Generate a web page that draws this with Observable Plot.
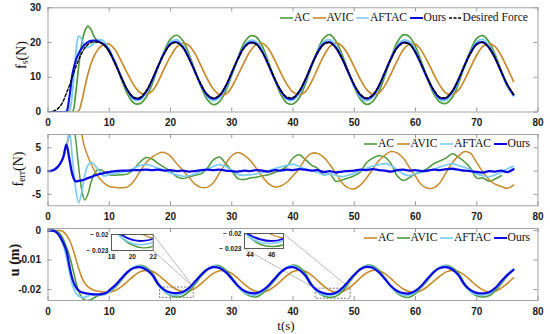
<!DOCTYPE html>
<html><head><meta charset="utf-8">
<script src="https://cdn.jsdelivr.net/npm/d3@7"></script>
<script src="https://cdn.jsdelivr.net/npm/@observablehq/plot@0.6"></script>
<style>
body{margin:0;background:#fff}
#chart{position:relative;width:550px;height:334px;overflow:hidden;background:#fff}
.leg{position:absolute;font-family:"Liberation Serif","DejaVu Serif",serif;font-size:11.6px;color:#111;white-space:nowrap;display:flex;align-items:center;height:14px}
.leg .it{display:flex;align-items:center;margin-right:2.5px}
.leg svg{display:block;margin-right:1px}
.lab{position:absolute;font-family:"Liberation Serif","DejaVu Serif",serif;font-size:14px;color:#111;white-space:nowrap;line-height:1}
.lab sub{font-size:70%;line-height:0;vertical-align:-0.25em}
</style></head><body><div id="chart"></div>
<script>
// ---------- data ----------
const time = [0,0.5,1,1.5,2,2.5,3,3.5,4,4.5,5,5.5,6,6.5,7,7.5,8,8.5,9,9.5,10,
11,12,13,14,15,16,17,18,19,20,21,22,23,24,25,26,27,28,29,30,31,32,
33,34,35,36,37,38,39,40,41,42,43,44,45,46,47,48,49,50,51,52,53,54,55,56,57,
58,59,60,61,62,63,64,65,66,67,68,69,70,71,72,73,74,75,76];

// top panel: contact force f_s (N)
const fsDesired = [0,0,0.3,0.8,1.7,3.2,5.4,7.6,10.2,12.8,15.0,16.9,18.4,19.4,20.0,20.2,20.1,20.0,19.5,18.6,17.3,
13.7,9.7,6.3,4.3,4.2,6.0,9.3,13.3,16.9,19.4,20.0,18.6,15.6,11.7,7.9,5.1,4.0,4.9,7.5,11.3,15.2,18.4,
19.9,19.5,17.3,13.7,9.7,6.3,4.3,4.2,6.0,9.3,13.3,16.9,19.4,20.0,18.6,15.6,11.7,7.9,5.1,4.0,4.9,7.5,11.3,15.2,18.4,
19.9,19.5,17.3,13.7,9.7,6.3,4.3,4.2,6.0,9.3,13.3,16.9,19.4,20.0,18.6,15.6,11.7,7.9,5.1];
const fsOurs = [0,0,0,0,0,0,0.1,4.5,11.0,14.6,16.8,18.3,19.4,20.1,20.5,20.6,20.5,20.1,19.6,18.8,17.6,
13.9,9.9,6.2,4.0,3.9,5.8,9.2,13.3,17.0,19.6,20.1,18.7,15.5,11.6,7.7,4.9,3.8,4.7,7.4,11.3,15.3,18.6,
20.0,19.6,17.2,13.5,9.5,6.1,4.0,3.9,5.8,9.2,13.4,17.1,19.6,20.1,18.5,15.4,11.5,7.7,4.9,3.8,4.7,7.4,11.4,15.4,18.6,
20.0,19.6,17.1,13.4,9.5,6.1,4.0,4.0,5.9,9.3,13.4,17.1,19.6,20.1,18.5,15.5,11.6,7.8,5.0];
const fsAFTAC = [0,0,0,0,0,0,0,0.5,6.0,16.0,21.8,21.0,18.8,18.6,19.0,19.8,20.6,20.8,20.5,19.5,18.0,
14.0,9.7,5.9,3.6,3.4,5.4,8.9,13.1,17.2,20.1,20.8,19.2,15.9,11.7,7.5,4.4,3.2,4.2,7.0,11.0,15.2,18.9,
20.6,20.2,17.8,13.9,9.6,5.9,3.6,3.4,5.3,8.8,13.1,17.3,20.2,20.8,19.0,15.7,11.5,7.4,4.3,3.2,4.2,7.1,11.1,15.3,19.0,
20.7,20.3,17.7,13.8,9.5,5.8,3.5,3.4,5.4,8.9,13.2,17.3,20.2,20.9,19.1,15.7,11.5,7.4,4.6];
const fsAC = [0,0,0,0,0,0,0,0,0,5.0,13.0,19.5,23.2,24.7,23.8,21.8,20.6,20.0,19.6,18.8,17.2,
14.3,9.3,5.1,2.6,2.4,4.2,8.0,13.0,17.6,21.0,22.1,20.6,16.8,11.9,7.2,3.6,2.1,3.0,6.0,10.6,15.6,19.8,
21.9,21.6,18.9,14.4,9.4,5.1,2.6,2.3,4.0,7.9,12.9,17.7,21.2,22.3,20.4,16.6,11.8,7.2,3.7,2.2,3.0,5.8,10.4,15.5,20.0,
22.2,21.7,18.8,14.3,9.3,5.2,2.8,2.5,4.2,8.1,13.1,17.8,21.2,22.0,20.2,16.5,11.8,7.3,5.0];
const fsAVIC = [0,0,0,0,0,0,0,0,0,0,0.3,3.0,7.0,10.8,13.8,16.0,17.6,18.7,19.3,19.6,19.6,
17.8,14.5,11.0,7.8,5.6,5.0,6.0,8.8,12.6,16.0,18.7,19.8,19.2,16.8,13.2,9.6,6.6,5.0,5.1,7.2,10.6,14.2,17.5,19.4,19.8,
18.2,15.0,11.3,8.0,5.7,4.9,5.8,8.6,12.4,16.1,18.8,19.9,19.0,16.5,13.0,9.4,6.5,5.1,5.4,7.6,11.0,14.7,17.9,19.6,19.6,
17.6,14.4,10.8,7.6,5.4,5.0,6.3,9.2,12.9,16.4,18.9,19.7,18.8,16.2,12.6,8.8];

// middle panel: force error f_err (N)
const errOurs = [0,0.05,0.3,0.8,1.6,3.0,5.7,2.5,-0.8,-2.2,-2.1,-2.0,-1.8,-1.5,-1.3,-1.0,-0.8,-0.6,-0.5,-0.3,-0.2,
0.0,0.1,0.1,0.2,0.2,0.3,0.2,0.3,0.1,0.2,0.0,0.1,-0.1,0.0,0.2,0.3,0.2,0.3,0.1,0.0,-0.1,0.1,
0.0,0.2,0.1,-0.1,0.2,0.1,0.3,0.2,0.4,0.3,0.1,0.2,-0.2,0.0,-0.3,-0.1,0.0,0.1,0.3,0.2,0.4,0.2,0.1,-0.1,0.2,
0.3,0.1,0.2,0.0,0.1,0.3,0.2,0.4,0.5,0.3,0.1,0.0,-0.2,-0.3,0.0,-0.1,0.1,-0.2,0.4];
const errAFTAC = [0,0.05,0.3,0.8,1.6,3.0,5.2,8.5,2.5,-3.5,-6.8,-4.5,-1.0,1.2,1.8,1.5,0.6,-0.3,-1.0,-1.0,-0.7,
-0.5,-0.3,0.0,0.6,1.2,1.4,1.1,0.6,0.2,-0.4,-0.8,-1.1,-1.0,-0.6,-0.1,0.4,1.0,1.4,1.0,0.2,-0.7,-0.9,
-0.8,-0.6,-0.3,0.1,0.5,0.9,1.2,1.5,1.0,0.5,0.1,-0.3,-0.8,-0.6,-0.9,-1.2,-0.9,-0.5,0.1,0.6,1.1,1.4,1.6,1.2,0.3,
-0.6,-1.0,-0.5,-0.2,0.1,0.4,0.9,1.3,1.6,1.2,0.8,0.3,-0.6,-1.0,-1.2,-0.8,-0.3,0.5,1.0];
const errAC = [0,0.05,0.3,0.8,1.6,3.0,5.2,8.5,11.0,7.0,1.0,-4.0,-6.2,-5.0,-2.5,-0.8,0.2,0.3,0.0,-0.4,-0.8,
-0.9,-0.8,-0.6,0.4,1.9,2.9,2.6,1.6,0.8,0.0,-1.2,-1.6,-1.3,-0.9,-0.6,0.6,2.4,3.0,1.6,0.1,-1.6,-1.8,
-1.5,-1.3,-1.0,-0.8,-0.3,0.2,1.0,2.8,3.5,2.5,1.3,0.6,-0.8,-0.6,-2.2,-1.9,-1.5,-1.0,-0.2,1.8,2.8,3.3,3.0,1.6,-1.0,
-2.0,-1.4,-0.6,-0.2,0.6,1.6,2.2,2.8,3.7,3.0,2.0,0.6,-1.5,-1.5,-2.2,-1.7,-1.0,null,null];
const errAVIC = [0,0.05,0.3,0.8,1.6,3.0,5.2,7.6,10.2,12.8,14.0,8.0,5.0,3.2,1.7,0.3,-0.8,-1.7,-2.4,-2.9,-3.3,
-3.5,-3.6,-3.4,-2.2,-0.1,1.8,3.0,3.8,4.0,3.2,1.6,0.2,-1.3,-2.8,-3.5,-3.5,-2.5,-0.4,1.6,3.3,4.0,3.4,
2.3,0.6,-1.2,-2.7,-3.4,-3.2,-2.4,-1.0,0.5,2.6,3.8,3.8,3.0,1.4,-0.5,-2.5,-3.6,-3.8,-3.0,-1.5,0.4,2.2,3.4,4.2,3.9,
2.8,0.8,-1.1,-3.0,-3.7,-3.6,-2.5,-0.3,1.8,3.2,4.2,3.8,1.8,-0.2,-1.8,-2.8,-3.3,-3.7,-3.0];

// bottom panel: u (m)   (legend of this panel: AC = brown, AVIC = green)
const uOurs = [0,0,-0.0001,-0.0008,-0.0022,-0.0042,-0.0068,-0.0120,-0.0165,-0.0190,-0.0203,-0.0209,-0.0212,-0.0214,-0.0215,-0.0216,-0.0216,-0.0216,-0.0214,-0.0211,-0.0203,
-0.0185,-0.0162,-0.0140,-0.0127,-0.0124,-0.0132,-0.0150,-0.0182,-0.0201,-0.0210,-0.0212,-0.0208,-0.0195,-0.0173,-0.0150,-0.0132,-0.0124,-0.0127,-0.0141,-0.0163,-0.0187,-0.0204,-0.0211,-0.0212,-0.0203,
-0.0186,-0.0163,-0.0141,-0.0127,-0.0124,-0.0133,-0.0152,-0.0184,-0.0203,-0.0212,-0.0215,-0.0211,-0.0196,-0.0173,-0.0150,-0.0131,-0.0123,-0.0126,-0.0141,-0.0164,-0.0188,-0.0205,-0.0212,-0.0213,-0.0204,
-0.0186,-0.0162,-0.0140,-0.0127,-0.0124,-0.0132,-0.0151,-0.0183,-0.0202,-0.0211,-0.0213,-0.0209,-0.0195,-0.0172,-0.0150,-0.0133];
const uAFTAC = [0,0,0,-0.0008,-0.0025,-0.0050,-0.0090,-0.0140,-0.0185,-0.0210,-0.0222,-0.0226,-0.0225,-0.0222,-0.0219,-0.0218,-0.0218,-0.0218,-0.0217,-0.0214,-0.0207,
-0.0188,-0.0163,-0.0139,-0.0124,-0.0120,-0.0129,-0.0150,-0.0185,-0.0206,-0.0217,-0.0219,-0.0214,-0.0199,-0.0175,-0.0150,-0.0130,-0.0120,-0.0124,-0.0139,-0.0164,-0.0190,-0.0209,-0.0218,-0.0218,-0.0207,
-0.0189,-0.0164,-0.0140,-0.0124,-0.0120,-0.0130,-0.0152,-0.0187,-0.0208,-0.0218,-0.0220,-0.0215,-0.0199,-0.0175,-0.0150,-0.0129,-0.0119,-0.0123,-0.0139,-0.0165,-0.0191,-0.0210,-0.0219,-0.0218,-0.0208,
-0.0189,-0.0163,-0.0139,-0.0124,-0.0120,-0.0129,-0.0151,-0.0186,-0.0207,-0.0217,-0.0219,-0.0214,-0.0198,-0.0174,-0.0150,-0.0130];
const uAVIC = [0,0,0,-0.0003,-0.0012,-0.0030,-0.0055,-0.0085,-0.0125,-0.0170,-0.0205,-0.0226,-0.0235,-0.0237,-0.0234,-0.0228,-0.0222,-0.0219,-0.0217,-0.0214,-0.0209,
-0.0192,-0.0168,-0.0143,-0.0125,-0.0118,-0.0124,-0.0143,-0.0178,-0.0206,-0.0220,-0.0225,-0.0222,-0.0207,-0.0182,-0.0155,-0.0132,-0.0119,-0.0119,-0.0133,-0.0158,-0.0188,-0.0210,-0.0222,-0.0225,-0.0214,
-0.0193,-0.0169,-0.0144,-0.0125,-0.0117,-0.0123,-0.0144,-0.0180,-0.0208,-0.0222,-0.0226,-0.0223,-0.0207,-0.0181,-0.0154,-0.0131,-0.0118,-0.0119,-0.0134,-0.0160,-0.0190,-0.0212,-0.0224,-0.0226,-0.0214,
-0.0192,-0.0168,-0.0143,-0.0124,-0.0118,-0.0125,-0.0144,-0.0179,-0.0207,-0.0221,-0.0225,-0.0221,-0.0205,-0.0180,-0.0154,-0.0133];
const uAC = [0,0,0,0,0,-0.0004,-0.0015,-0.0032,-0.0058,-0.0092,-0.0128,-0.0158,-0.0178,-0.0190,-0.0197,-0.0202,-0.0205,-0.0207,-0.0208,-0.0209,-0.0208,
-0.0203,-0.0190,-0.0172,-0.0154,-0.0140,-0.0135,-0.0138,-0.0150,-0.0168,-0.0186,-0.0200,-0.0207,-0.0206,-0.0196,-0.0180,-0.0161,-0.0145,-0.0136,-0.0136,-0.0145,-0.0162,-0.0181,-0.0197,-0.0206,-0.0208,
-0.0203,-0.0189,-0.0171,-0.0153,-0.0139,-0.0134,-0.0138,-0.0151,-0.0169,-0.0188,-0.0202,-0.0209,-0.0208,-0.0197,-0.0180,-0.0160,-0.0144,-0.0135,-0.0136,-0.0146,-0.0163,-0.0182,-0.0198,-0.0207,-0.0209,
-0.0203,-0.0189,-0.0171,-0.0154,-0.0140,-0.0135,-0.0139,-0.0151,-0.0169,-0.0187,-0.0201,-0.0208,-0.0206,-0.0195,-0.0179,-0.0160];

// ticks
const xTicks = [0,10,20,30,40,50,60,70,80];
const fsTicks = [0,10,20,30];
const errTicks = [-5,0,5];
const uTicks = [-0.02,-0.01,0];
const inset1Ticks = [18,20,22];
const inset2Ticks = [44,46];
const insetYTicks = [-0.023,-0.02];

// zoom annotations (bottom panel, data units)
const zoomBoxes = [{x1:18.3,x2:23.8,y1:-0.0228,y2:-0.0193},{x1:43.7,x2:49.4,y1:-0.0231,y2:-0.0197}];
const zoomLinks = [
  {x1:17.18,y1:-0.00136,x2:23.8,y2:-0.0193},{x1:17.18,y1:-0.00678,x2:23.8,y2:-0.0193},
  {x1:38.5,y1:-0.00112,x2:49.4,y2:-0.0197},{x1:32.13,y1:-0.0062,x2:43.7,y2:-0.0197}];

// ---------- style ----------
const C = {green:"#4f9a3d", brown:"#c98a2d", light:"#7ecbf4", blue:"#0b0be2", black:"#000"};
const W = 550, ML = 47.5, MR = 12.5;
const frameColor = "#9a9a9a";
const chart = document.getElementById("chart");
const tickStyle = {fontFamily:"'Liberation Sans', Arial, sans-serif", fontSize:"10px", fontWeight:"bold", color:"#1a1a1a", background:"transparent", overflow:"visible"};

function rows(arr){ return time.map((t,i)=>({t, v:arr[i]})).filter(d=>d.v!=null); }
function lineMark(s){
  return Plot.line(rows(s.values), {x:"t", y:"v", stroke:s.color, strokeWidth:s.width, strokeDasharray:s.dash, curve:"catmull-rom", clip:true});
}

function panel(o){
  const pw = W-ML-MR, ph = o.height-o.mt-o.mb;
  const svg = Plot.plot({
    width:W, height:o.height, marginLeft:ML, marginRight:MR, marginTop:o.mt, marginBottom:o.mb,
    style:tickStyle,
    x:{domain:[0,80], label:null},
    y:{domain:o.yDomain, label:null},
    marks:[
      ...(o.extra||[]),
      ...o.series.map(s=>lineMark(s)),
      Plot.frame({stroke:frameColor, strokeWidth:0.9}),
      Plot.ruleX(xTicks,{x:d=>d, insetTop:ph-4, stroke:frameColor}),
      Plot.ruleX(xTicks,{x:d=>d, insetBottom:ph-4, stroke:frameColor}),
      Plot.ruleY(o.yTicks,{y:d=>d, insetRight:pw-4, stroke:frameColor}),
      Plot.ruleY(o.yTicks,{y:d=>d, insetLeft:pw-4, stroke:frameColor}),
      Plot.axisX(xTicks,{tickSize:0, tickPadding:7, label:null, tickFormat:d=>String(d)}),
      Plot.axisY(o.yTicks,{tickSize:0, tickPadding:7, label:null, tickFormat:o.fmt})
    ]
  });
  svg.style.position="absolute"; svg.style.left="0px"; svg.style.top=o.top+"px";
  chart.appendChild(svg);
}

function inset(o){
  const ml=34, mr=3, mt=3, mb=12;
  const svg = Plot.plot({
    width:o.pw+ml+mr, height:o.ph+mt+mb, marginLeft:ml, marginRight:mr, marginTop:mt, marginBottom:mb,
    style:{...tickStyle, fontSize:"6.6px"},
    x:{domain:o.xd, label:null},
    y:{domain:[-0.023,-0.02], label:null},
    marks:[
      Plot.frame({fill:"white", stroke:"none"}),
      ...o.series.map(s=>lineMark({...s, width:s.width*0.85})),
      Plot.frame({stroke:"#4a4a4a", strokeWidth:0.9}),
      Plot.axisX(o.xt,{tickSize:0, tickPadding:3.5, label:null, tickFormat:d=>String(d)}),
      Plot.axisY(insetYTicks,{tickSize:0, tickPadding:3, label:null, tickFormat:d=>"\u2212 "+String(Math.abs(d))})
    ]
  });
  svg.style.position="absolute"; svg.style.left=(o.left-ml)+"px"; svg.style.top=(o.top-mt)+"px";
  chart.appendChild(svg);
}

function legend(items, left, cy){
  const div = document.createElement("div");
  div.className="leg"; div.style.left=left+"px"; div.style.top=(cy-7)+"px";
  for(const it of items){
    const span=document.createElement("span"); span.className="it";
    span.innerHTML = `<svg width="13" height="6"><line x1="0" x2="13" y1="3" y2="3" stroke="${it.color}" stroke-width="${it.w||1.6}" ${it.dash?`stroke-dasharray="${it.dash}"`:""}/></svg><span>${it.label}</span>`;
    div.appendChild(span);
  }
  chart.appendChild(div);
}
function label(html, cx, cy, rotate, extra){
  const d=document.createElement("div"); d.className="lab"; d.innerHTML=html;
  d.style.left=cx+"px"; d.style.top=cy+"px";
  d.style.transform=`translate(-50%,-50%)${rotate?" rotate(-90deg)":""}`;
  if(extra) Object.assign(d.style, extra);
  chart.appendChild(d);
}

// ---------- panels ----------
panel({top:0, height:130, mt:7.3, mb:18.5, yDomain:[0,30], yTicks:fsTicks, fmt:d=>String(d),
  series:[
    {values:fsAC, color:C.green, width:1.7},
    {values:fsAVIC, color:C.brown, width:1.7},
    {values:fsAFTAC, color:C.light, width:1.9},
    {values:fsOurs, color:C.blue, width:2.1},
    {values:fsDesired, color:C.black, width:1.4, dash:"3,2"}
  ]});

panel({top:126, height:96.5, mt:8, mb:17.2, yDomain:[-7.45,7.85], yTicks:errTicks, fmt:d=>d<0?"-"+Math.abs(d):String(d),
  series:[
    {values:errAC, color:C.green, width:1.5},
    {values:errAVIC, color:C.brown, width:1.5},
    {values:errAFTAC, color:C.light, width:1.7},
    {values:errOurs, color:C.blue, width:2.3}
  ]});

const uSeries = [
  {values:uAC, color:C.brown, width:1.6},
  {values:uAVIC, color:C.green, width:1.6},
  {values:uAFTAC, color:C.light, width:1.8},
  {values:uOurs, color:C.blue, width:2.2}
];
panel({top:220, height:114, mt:8, mb:34, yDomain:[-0.0237,0.0007], yTicks:uTicks, fmt:d=>d===0?"0":"-"+Math.abs(d).toFixed(2),
  series:uSeries,
  extra:[
    Plot.link(zoomLinks,{x1:"x1",y1:"y1",x2:"x2",y2:"y2", stroke:"#aaa", strokeWidth:0.8}),
    Plot.rect(zoomBoxes,{x1:"x1",x2:"x2",y1:"y1",y2:"y2", fill:"none", stroke:"#555", strokeWidth:0.8, strokeDasharray:"2,1.5"})
  ]});

inset({left:111, top:234, pw:41.7, ph:16, xd:[18,22], xt:inset1Ticks, series:uSeries});
inset({left:244.3, top:233.3, pw:39, ph:15, xd:[43.5,47.1], xt:inset2Ticks, series:uSeries});

// ---------- legends ----------
legend([
  {label:"AC", color:C.green},{label:"AVIC", color:C.brown},{label:"AFTAC", color:C.light},
  {label:"Ours", color:C.blue, w:2},{label:"Desired Force", color:C.black, dash:"3,1.5"}
], 280, 17.5);
legend([
  {label:"AC", color:C.green},{label:"AVIC", color:C.brown},{label:"AFTAC", color:C.light},{label:"Ours", color:C.blue, w:2}
], 364, 143.5);
legend([
  {label:"AC", color:C.brown},{label:"AVIC", color:C.green},{label:"AFTAC", color:C.light},{label:"Ours", color:C.blue, w:2}
], 364, 237.5);

// ---------- axis titles ----------
label("f<sub>s</sub>(N)", 22, 55, true);
label("f<sub>err</sub>(N)", 19, 169, true);
label("u (m)", 15, 260, true, {fontWeight:"bold"});
label("t(s)", 286, 325, false, {fontSize:"13px"});
</script></body></html>
